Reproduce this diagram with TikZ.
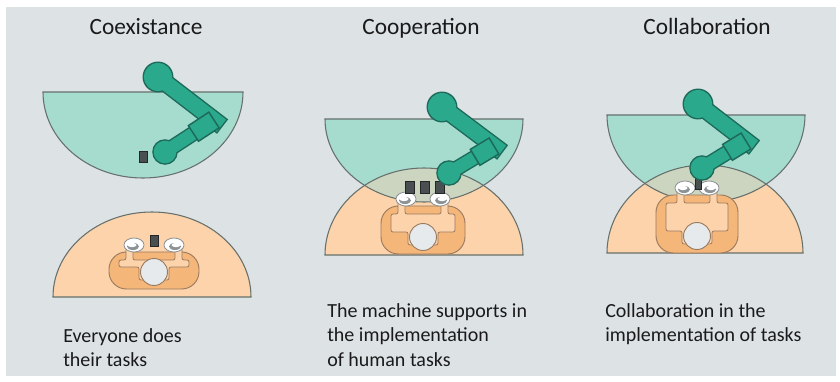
\documentclass[tikz,border=0pt]{standalone}
\usepackage{fontspec}
\setmainfont{Carlito}
\usetikzlibrary{calc}
\definecolor{ink}{HTML}{1A1A1A}
\definecolor{bgc}{HTML}{DDE2E5}
\definecolor{tealzone}{HTML}{A6DCCE}
\definecolor{peach}{HTML}{FCD3AA}
\definecolor{shared}{HTML}{CCD5C0}
\definecolor{zonerim}{HTML}{66706C}
\definecolor{robotc}{HTML}{2BA98D}
\definecolor{robotrim}{HTML}{1D6A5A}
\definecolor{bodyc}{HTML}{F5B67A}
\definecolor{bodyrim}{HTML}{9A7A5E}
\definecolor{headc}{HTML}{E6EAEC}
\definecolor{handrim}{HTML}{8C9296}
\definecolor{toolc}{HTML}{4A4F52}
\tikzset{
  title/.style={font=\fontsize{17.5}{21}\selectfont, text=ink, inner sep=0pt, anchor=base},
  note/.style={font=\fontsize{15}{18.4}\selectfont, text=ink, inner sep=0pt,
               align=left, anchor=north west},
  robotzone/.style={fill=tealzone},
  humanzone/.style={fill=peach},
  sharedzone/.style={fill=shared},
  zoneline/.style={draw=zonerim, line width=0.8pt},
  shoulders/.style={fill=bodyc, draw=bodyrim, line width=0.7pt, rounded corners=13pt},
  torso/.style={fill=peach, draw=bodyrim, line width=0.6pt, rounded corners=1.5pt},
  head/.style={fill=headc, draw=bodyrim, line width=0.7pt},
  hand/.style={fill=white, draw=handrim, line width=0.6pt},
  tool/.style={fill=toolc, draw=black!85, line width=0.5pt},
}
% robot zone above, human zone below, shared part tinted
\newcommand\zones[8]{%
  \fill[robotzone] (#1-#3,#2) arc[start angle=180,end angle=0,x radius=#3,y radius=#4] -- cycle;
  \fill[humanzone] (#5-#7,#6) arc[start angle=180,end angle=360,x radius=#7,y radius=#8] -- cycle;
  \begin{scope}
    \clip (#1-#3,#2) arc[start angle=180,end angle=0,x radius=#3,y radius=#4] -- cycle;
    \fill[sharedzone] (#5-#7,#6) arc[start angle=180,end angle=360,x radius=#7,y radius=#8] -- cycle;
  \end{scope}
  \draw[zoneline] (#1-#3,#2) arc[start angle=180,end angle=0,x radius=#3,y radius=#4] -- cycle;
  \draw[zoneline] (#5-#7,#6) arc[start angle=180,end angle=360,x radius=#7,y radius=#8] -- cycle;
}
% worker seen from above: head centre, shoulder top, half width, hand offset
\newcommand\human[4]{%
  \begin{scope}[shift={(#1)}]
    \filldraw[shoulders] (-#3,-#2) rectangle (#3,17);
    \filldraw[torso] (-#4-8,-#2-4) -- (-#4-8,-#2+8) -- (-#3+10,-#2+8) -- (-#3+10,-5) -- (-15,-5)
      -- (-15,8) -- (15,8) -- (15,-5) -- (#3-10,-5) -- (#3-10,-#2+8) -- (#4+8,-#2+8)
      -- (#4+8,-#2-4) -- (#4+1,-#2-4) -- (#4+1,-#2+8) -- (-#4-1,-#2+8) -- (-#4-1,-#2-4) -- cycle;
    \filldraw[head] (0,0) circle (13.5);
    \foreach \s in {-1,1}{
      \filldraw[hand] (\s*#4,-#2-7) ellipse (10 and 7);
      \fill[handrim] (\s*#4+\s*1,-#2-5.5) ellipse (6 and 3.5);
      \fill[white] (\s*#4+\s*2,-#2-7) ellipse (4.5 and 2.2);
    }
  \end{scope}}
% robot arm: shoulder, elbow, wrist
\newcommand\robotarm[3]{%
  \coordinate (arm mid) at ($(#2)!0.42!(#3)$);
  \foreach \col/\ex in {robotrim/1.1pt, robotc/0pt}{
    \fill[\col] (#1) circle[radius=10.5pt+\ex];
    \draw[\col, line width=11.5pt+2*\ex] (#1) -- ($(#2)!-7pt-\ex!(#1)$);
  }
  \foreach \col/\ex in {robotrim/1.1pt, robotc/0pt}{
    \fill[\col] (#3) circle[radius=8.5pt+\ex];
    \draw[\col, line width=9.5pt+2*\ex] (#3) -- (#2);
  }
  \filldraw[robotc, draw=robotrim, line width=1.1pt]
    ($(#2)!7pt!90:(#3)$) -- ($(#2)!7pt!-90:(#3)$) --
    ($(arm mid)!7pt!90:(#2)$) -- ($(arm mid)!7pt!-90:(#2)$) -- cycle;
}

\begin{document}
\begin{tikzpicture}[x=0.75pt, y=-0.75pt]
  \useasboundingbox (0,0) rectangle (840,382);
  \fill[bgc] (6,7) rectangle (836,376);

  % coexistence
  \zones{143}{92}{100}{86}{152}{297}{99}{85}
  \human{154,272}{20}{45}{20}
  \filldraw[tool] (150,235) rectangle (158,246);
  \filldraw[tool] (139,151) rectangle (147,162);
  \robotarm{158,77}{214,120}{165,152}

  % cooperation
  \zones{424}{119}{99}{83}{424}{255}{99}{87}
  \human{423,237}{31}{42}{17}
  \foreach \x in {410,425,440}
    \filldraw[tool] (\x-4.5,181) rectangle (\x+4.5,193);
  \robotarm{442,107}{494,146}{449,173}

  % collaboration
  \zones{706}{115}{99}{87}{705}{253}{98}{88}
  \human{697,236}{41}{41}{12}
  \filldraw[tool] (695,174) rectangle (701,189);
  \robotarm{698,104}{746,141}{702,168}

  \node[title] (coex) at (146,34) {Coexistance};
  \node[title] (coop) at (421,34) {Cooperation};
  \node[title] (colab) at (707,34) {Collaboration};

  \node[note] (coexnote) at (63,328) {Everyone does\\their tasks};
  \node[note] (coopnote) at (327,303) {The machine supports in\\the implementation\\of human tasks};
  \node[note] (colabnote) at (605,303) {Collaboration in the\\implementation of tasks};
\end{tikzpicture}
\end{document}
